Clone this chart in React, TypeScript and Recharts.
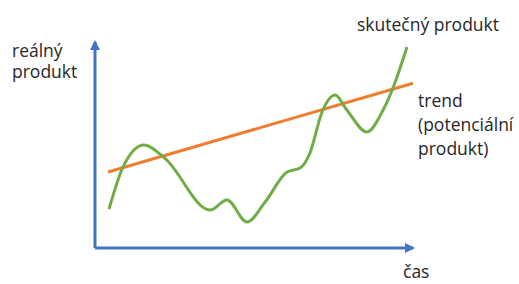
import React from 'react';
import { LineChart, Line, XAxis, YAxis } from 'recharts';

// skutečný produkt (zelená křivka)
const realTime = [4.4, 8.8, 15.4, 22.0, 36.2, 41.5, 47.8, 53.5, 60.4, 64.5, 67.6, 71.4, 75.5, 79.2, 85.5, 90.6, 93.7, 98.1];
const realValue = [18.9, 39.3, 50.0, 43.5, 18.4, 23.3, 12.6, 22.3, 36.9, 38.8, 46.1, 66.0, 74.3, 67.0, 56.3, 67.0, 77.7, 97.6];

// trend (potenciální produkt)
const trendTime = [4.1, 100];
const trendValue = [36.9, 80.0];

const realData = realTime.map((t, i) => ({ t, v: realValue[i] }));
const trendData = trendTime.map((t, i) => ({ t, v: trendValue[i] }));

const BLUE = '#4472C4';
const GREEN = '#70AD47';
const ORANGE = '#ED7D31';
const FONT = '"Open Sans", sans-serif';

const textStyle: React.CSSProperties = { fontFamily: FONT, fontSize: 17.5, fill: '#262626' };

const App: React.FC = () => {
  return (
    <div style={{ position: 'absolute', left: 0, top: 0, width: 519, height: 284, background: '#fff' }}>
      <svg width={519} height={284} style={{ position: 'absolute', left: 0, top: 0 }}>
        <defs>
          <marker id="arrowHead" viewBox="0 0 10 10" refX={8} refY={5} markerWidth={10} markerHeight={10}
            markerUnits="userSpaceOnUse" orient="auto-start-reverse">
            <path d="M0,0 L10,5 L0,10 z" fill={BLUE} />
          </marker>
        </defs>
        <text x={12} y={57} style={textStyle}>reálný</text>
        <text x={12} y={78} style={textStyle}>produkt</text>
        <text x={357} y={31} style={textStyle}>skutečný produkt</text>
        <text x={418} y={107} style={textStyle}>trend</text>
        <text x={418} y={131} style={textStyle}>(potenciální</text>
        <text x={418} y={155} style={textStyle}>produkt)</text>
        <text x={403} y={278} style={textStyle}>čas</text>
      </svg>
      <div style={{ position: 'absolute', left: 0, top: 0 }}>
        <LineChart width={519} height={284} margin={{ top: 42, right: 106, bottom: 35, left: 94 }}>
          <XAxis
            type="number"
            dataKey="t"
            domain={[0, 100]}
            height={1}
            tick={false}
            tickLine={false}
            axisLine={{ stroke: BLUE, strokeWidth: 3, markerEnd: 'url(#arrowHead)' }}
          />
          <YAxis
            type="number"
            domain={[0, 100]}
            width={1}
            tick={false}
            tickLine={false}
            axisLine={{ stroke: BLUE, strokeWidth: 3, markerStart: 'url(#arrowHead)' }}
          />
          <Line data={trendData} dataKey="v" type="linear" stroke={ORANGE} strokeWidth={3} dot={false} isAnimationActive={false} />
          <Line data={realData} dataKey="v" type="monotone" stroke={GREEN} strokeWidth={3} dot={false} isAnimationActive={false} />
        </LineChart>
      </div>
    </div>
  );
};

export default App;
